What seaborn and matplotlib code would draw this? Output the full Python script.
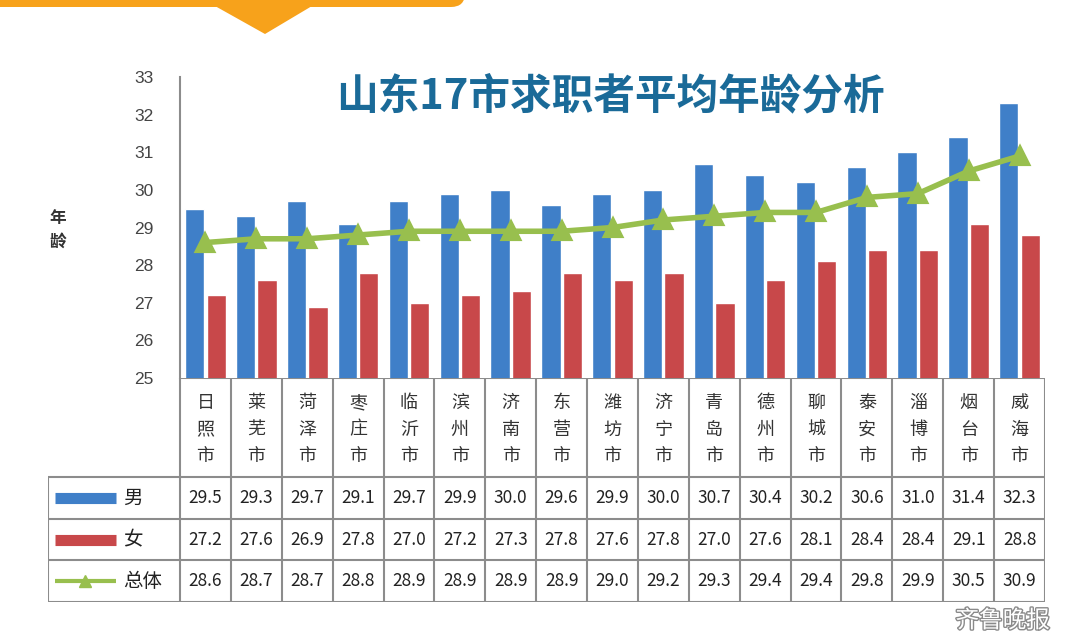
import numpy as np
import pandas as pd
import matplotlib
matplotlib.use("Agg")
import matplotlib.pyplot as plt
import matplotlib.patheffects as pe
from matplotlib.patches import Polygon, FancyBboxPatch
import seaborn as sns

cities = ["日照市", "莱芜市", "菏泽市", "枣庄市", "临沂市", "滨州市", "济南市", "东营市", "潍坊市",
          "济宁市", "青岛市", "德州市", "聊城市", "泰安市", "淄博市", "烟台市", "威海市"]
male = [29.5, 29.3, 29.7, 29.1, 29.7, 29.9, 30.0, 29.6, 29.9, 30.0, 30.7, 30.4, 30.2, 30.6, 31.0, 31.4, 32.3]
female = [27.2, 27.6, 26.9, 27.8, 27.0, 27.2, 27.3, 27.8, 27.6, 27.8, 27.0, 27.6, 28.1, 28.4, 28.4, 29.1, 28.8]
overall = [28.6, 28.7, 28.7, 28.8, 28.9, 28.9, 28.9, 28.9, 29.0, 29.2, 29.3, 29.4, 29.4, 29.8, 29.9, 30.5, 30.9]
series_names = ["男", "女", "总体"]
yticks = [25, 26, 27, 28, 29, 30, 31, 32, 33]

BLUE = "#3f7fc8"
RED = "#c8484a"
GREEN = "#98bf4e"
GRID = "#8c8c8c"
CJK = ["Noto Sans CJK SC", "DejaVu Sans"]

sns.set_style("white")
plt.rcParams["font.family"] = CJK

W, H = 1080, 639
fig = plt.figure(figsize=(W / 100, H / 100), dpi=100)

def fx(px):
    return px / W

def fy(py):
    return 1 - py / H

# orange banner at the top
deco = fig.add_axes([0, 0, 1, 1], zorder=-1)
deco.set_xlim(0, W)
deco.set_ylim(H, 0)
deco.axis("off")
deco.add_patch(FancyBboxPatch((-40, -30), 505, 37, boxstyle="round,pad=0,rounding_size=14",
                              fc="#f7a21b", ec="none"))
deco.add_patch(Polygon([(215, 6), (312, 6), (265, 34)], closed=True, fc="#f7a21b", ec="none"))

# main chart
ax = fig.add_axes([fx(180), fy(378), fx(1045 - 180), (378 - 77) / H])
bars = pd.DataFrame({
    "city": cities * 2,
    "sex": [series_names[0]] * len(cities) + [series_names[1]] * len(cities),
    "age": male + female,
})
sns.barplot(data=bars, x="city", y="age", hue="sex", palette=[BLUE, RED],
            width=0.84, gap=0.1, ax=ax, legend=False, saturation=1)
sns.pointplot(x=cities, y=overall, color=GREEN, markers="^", markersize=11,
              linewidth=4, ax=ax)
ax.set_xlim(-0.5, len(cities) - 0.5)
ax.set_ylim(25, 33)
ax.set_yticks(yticks)
ax.set_yticklabels([str(t) for t in yticks], fontsize=12.5, color="#444444",
                   family=["Liberation Sans", "DejaVu Sans"])
ax.set_xticks([])
ax.set_xlabel("")
ax.set_ylabel("")
for s in ["top", "right", "bottom"]:
    ax.spines[s].set_visible(False)
ax.spines["left"].set_color(GRID)
ax.spines["left"].set_linewidth(1.5)
ax.tick_params(axis="y", direction="out", length=5, width=1.2, color=GRID, pad=14)

fig.text(fx(610), fy(96), "山东17市求职者平均年龄分析", ha="center", va="center",
         fontsize=30, fontweight="bold", color="#1a6a98")
fig.text(fx(58), fy(230), "年\n龄", ha="center", va="center", fontsize=12,
         fontweight="bold", color="#333333", linespacing=1.4)

# data table under the chart
n = len(cities)
col_px = (1045 - 180) / n
leg_w = (180 - 48) / col_px
tab = fig.add_axes([fx(48), fy(602), fx(1045 - 48), (602 - 378) / H])
x0, x1 = -0.5 - leg_w, n - 0.5
tab.set_xlim(x0, x1)
head_h = 100 / 42
row_edges = [0, head_h, head_h + 1, head_h + 2, head_h + 3]
tab.set_ylim(row_edges[-1], 0)
tab.axis("off")
lkw = dict(color=GRID, lw=1.5, solid_capstyle="butt")

# horizontal lines
tab.plot([-0.5, x1], [0, 0], **lkw)
for yv in row_edges[1:]:
    tab.plot([x0, x1], [yv, yv], **lkw)
# vertical lines
for i in range(n + 1):
    tab.plot([i - 0.5, i - 0.5], [0, row_edges[-1]], **lkw)
tab.plot([x0, x0], [head_h, row_edges[-1]], **lkw)

for i, c in enumerate(cities):
    tab.text(i, head_h / 2 + 0.05, "\n".join(c), ha="center", va="center", fontsize=13,
             color="#333333", linespacing=1.6)

for r, vals in enumerate([male, female, overall]):
    yc = (row_edges[r + 1] + row_edges[r + 2]) / 2
    for i, v in enumerate(vals):
        tab.text(i, yc, f"{v:.1f}", ha="center", va="center", fontsize=12.5,
                 color="#222222")

# legend keys inside the table
lx = [x0 + 0.13, x0 + 1.33]
for r, (name, col) in enumerate(zip(series_names, [BLUE, RED, GREEN])):
    yc = (row_edges[r + 1] + row_edges[r + 2]) / 2
    if r < 2:
        tab.plot(lx, [yc, yc], color=col, lw=8, solid_capstyle="butt")
    else:
        tab.plot(lx, [yc, yc], color=col, lw=3, solid_capstyle="butt")
        tab.plot([np.mean(lx)], [yc], marker="^", color=col, markersize=8)
    tab.text(lx[1] + 0.15, yc, name, ha="left", va="center", fontsize=14, color="#222222")

# watermark, kept just under the table so it does not hide the values
fig.text(fx(1050), fy(621), "齐鲁晚报", ha="right", va="center", fontsize=17,
         color="white", path_effects=[pe.withStroke(linewidth=2, foreground="#8a8a8a")])

fig.savefig("out.png", dpi=100, facecolor="white")
